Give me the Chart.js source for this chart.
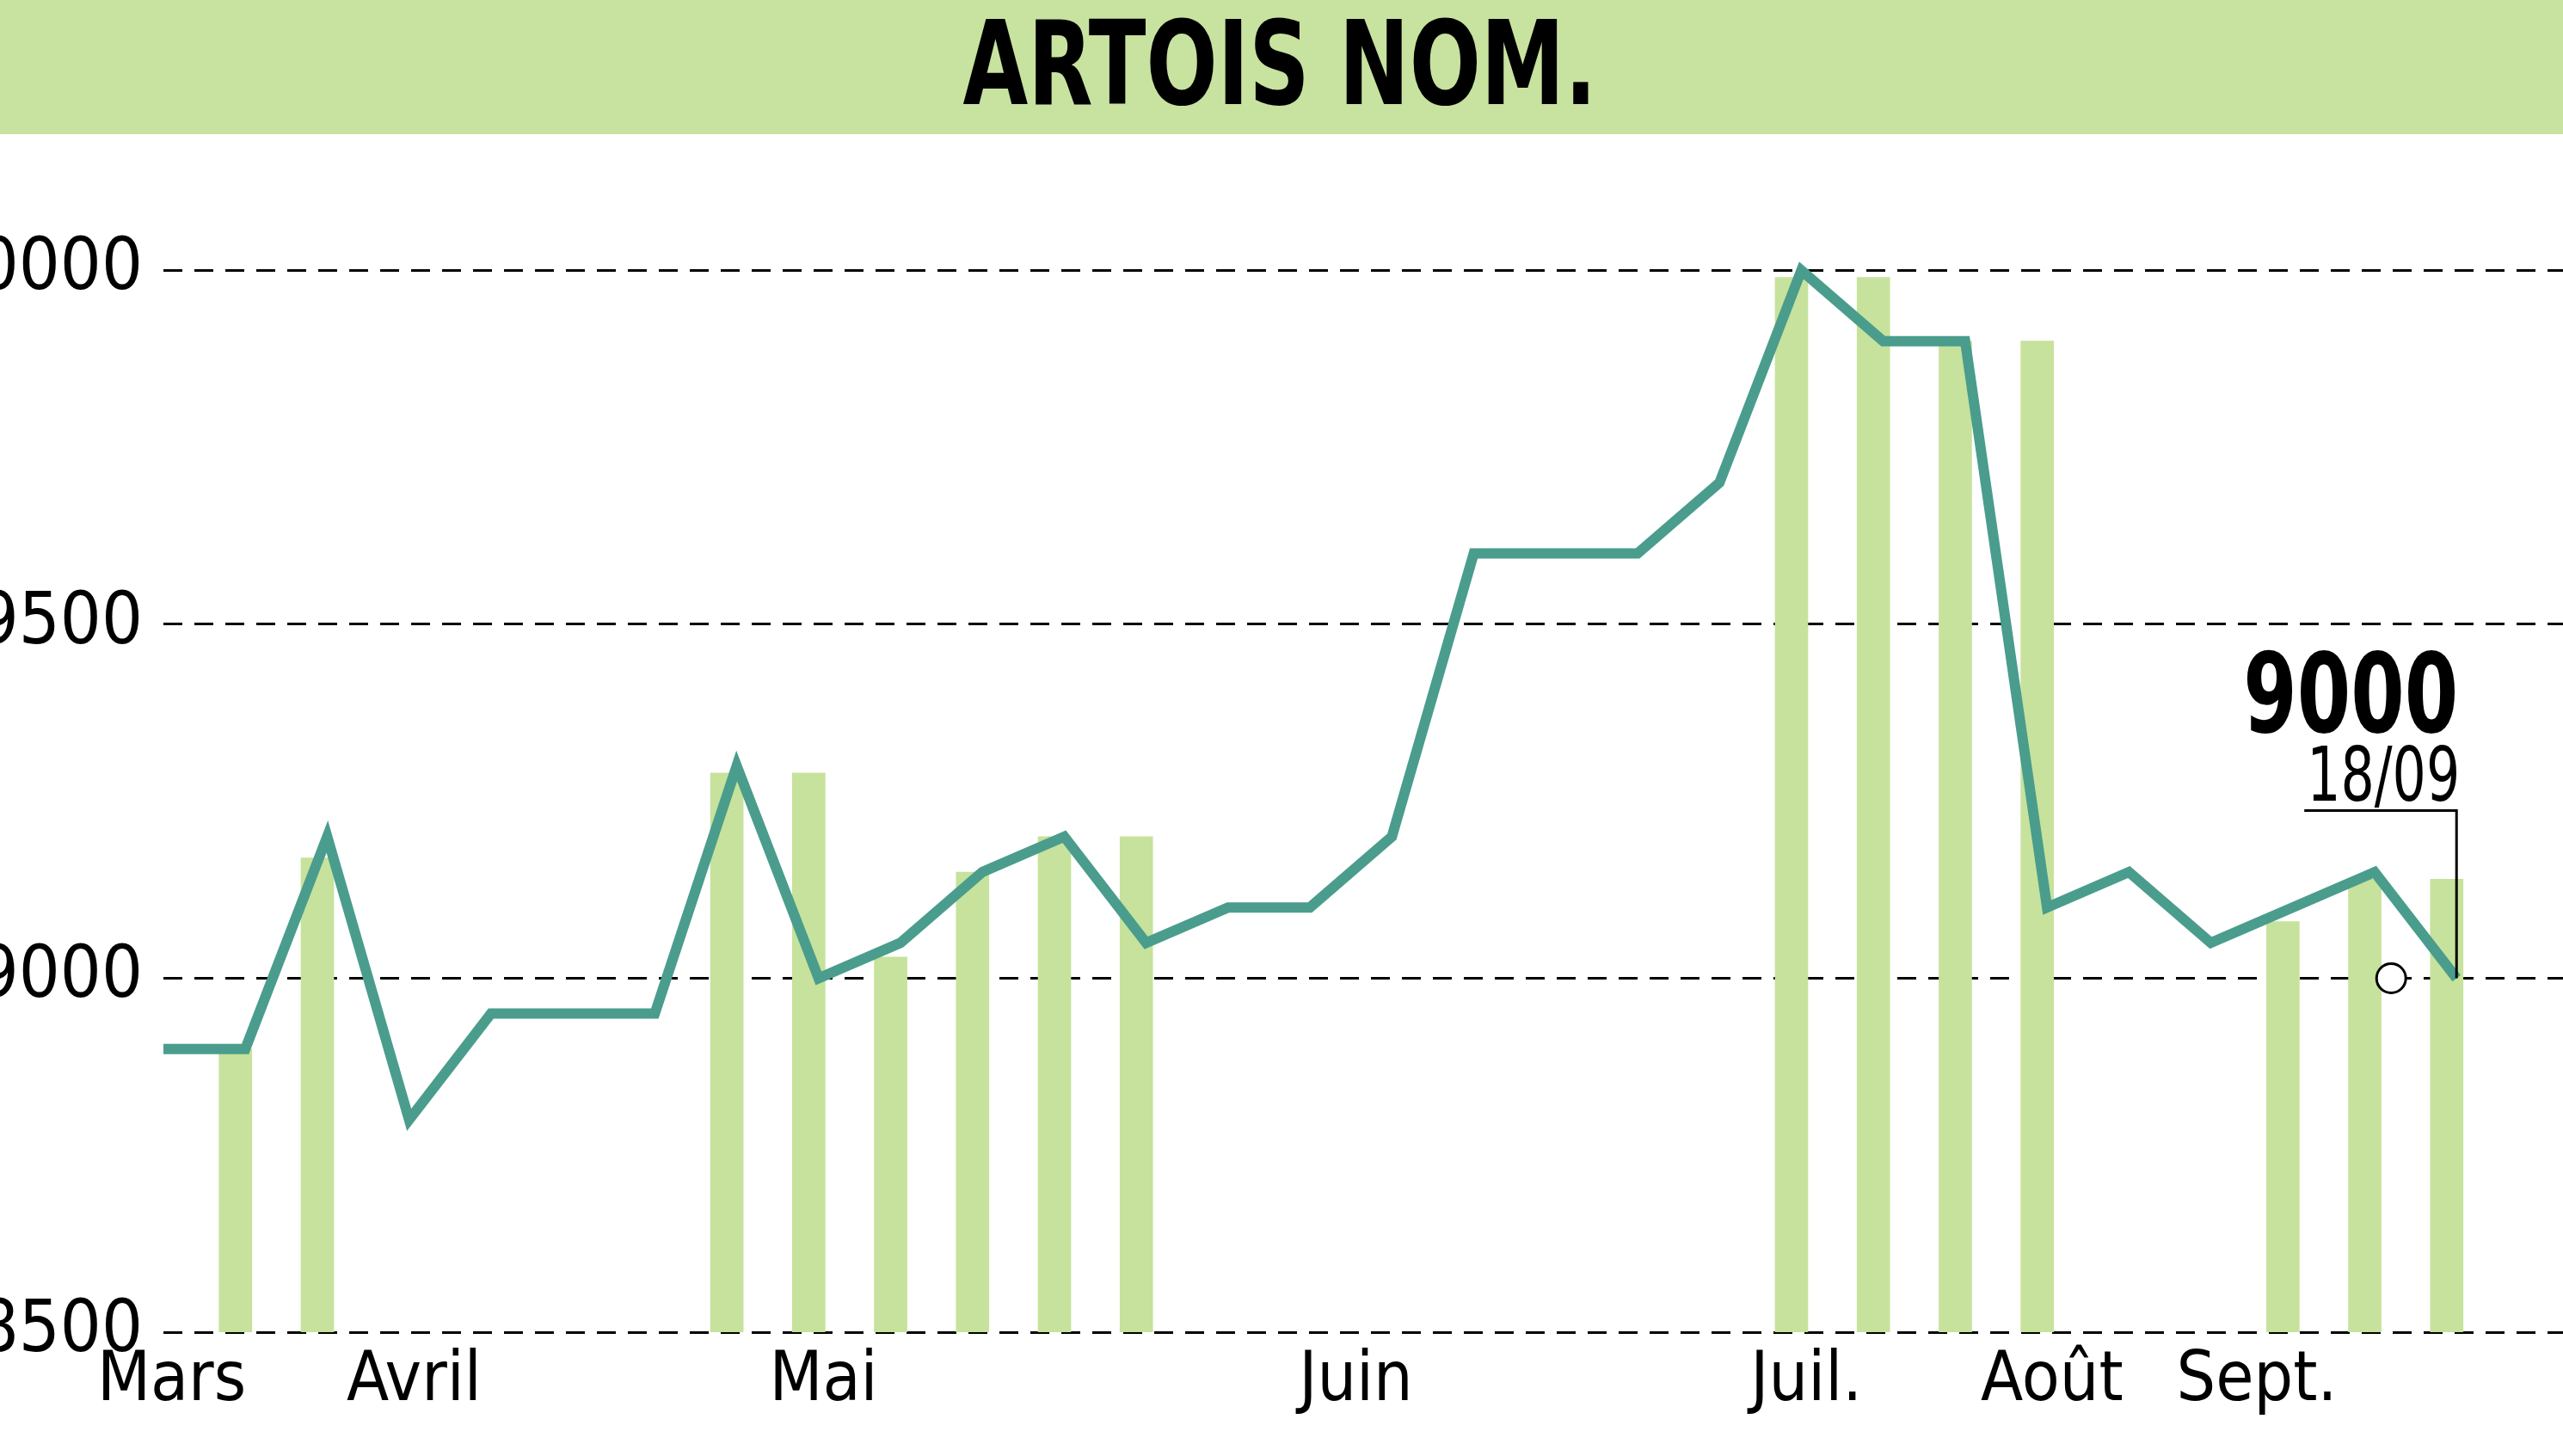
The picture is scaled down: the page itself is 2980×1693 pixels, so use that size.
<!DOCTYPE html>
<html><head><meta charset="utf-8">
<script src="https://cdn.jsdelivr.net/npm/chart.js@4/dist/chart.umd.min.js"></script>
<style>html,body{margin:0;padding:0;background:#fff}#c{display:block}</style>
</head><body>
<canvas id="c" width="2980" height="1693"></canvas>
<script>
const title = "ARTOIS NOM.";
const priceX = [0,1,2,3,4,6,7,8,9,10,11,12,13,14,15,16,18,19,20,21,22,23,24,25,27,28];
const priceY = [8900,8900,9200,8800,8950,8950,9300,9000,9050,9150,9200,9050,9100,9100,9200,9600,9600,9700,10000,9900,9900,9100,9150,9050,9150,9000];
const barX = [1,2,7,8,9,10,11,12,20,21,22,23,26,27,28];
const barY = [8900,9170,9290,9290,9030,9150,9200,9200,9990,9990,9900,9900,9080,9140,9140];
const yTicks = [8500,9000,9500,10000];
const monthPos = [0.1,3.06,8.06,14.56,20.06,23.06,25.56];
const monthLabels = ["Mars","Avril","Mai","Juin","Juil.","Août","Sept."];
const lastValue = "9000", lastDate = "18/09";
const FONT = "'Liberation Sans Narrow','DejaVu Sans Condensed',sans-serif";

function condText(c,t,x,y,sx){c.save();c.translate(x,y);c.scale(sx,1);c.fillText(t,0,0);c.restore();}

const deco = {
  id:'deco',
  beforeDraw(ch){
    const c=ch.ctx; c.save();
    c.fillStyle='#fff'; c.fillRect(0,0,ch.width,ch.height);
    c.fillStyle='#c8e2a0'; c.fillRect(0,0,ch.width,156);
    c.fillStyle='#000'; c.font="bold 136px "+FONT; c.textAlign='center'; c.textBaseline='middle';
    condText(c,title,1488,86,0.8);
    c.restore();
  },
  afterDraw(ch){
    const c=ch.ctx, xs=ch.scales.x, ys=ch.scales.y; c.save();
    const px=xs.getPixelForValue(priceX[priceX.length-1]), py=ys.getPixelForValue(priceY[priceY.length-1]);
    c.fillStyle='#000'; c.textAlign='center'; c.textBaseline='alphabetic';
    c.font="bold 128px "+FONT; condText(c,lastValue,px-123,py-286,0.78);
    c.font="88px "+FONT; condText(c,lastDate,px-85,py-206,0.78);
    c.strokeStyle='#000'; c.lineWidth=3;
    c.beginPath(); c.moveTo(px-177,py-195); c.lineTo(px,py-195); c.lineTo(px,py); c.stroke();
    c.beginPath(); c.arc(px-76,py,17,0,Math.PI*2); c.fillStyle='#fff'; c.fill(); c.lineWidth=3; c.stroke();
    c.restore();
  }
};

new Chart(document.getElementById('c'),{
  data:{datasets:[
    {type:'line',data:priceX.map((x,i)=>({x,y:priceY[i]})),borderColor:'#4a9d8c',borderWidth:12,pointRadius:0,tension:0,order:1},
    {type:'bar',data:barX.map((x,i)=>({x:x-0.12,y:[8500,barY[i]]})),backgroundColor:'#c6e29c',barThickness:38,order:2}
  ]},
  options:{responsive:false,animation:false,
    layout:{padding:{top:158,right:0,bottom:36,left:0}},
    plugins:{legend:{display:false},tooltip:{enabled:false}},
    scales:{
      x:{type:'linear',min:0,max:29.3,offset:false,
        afterBuildTicks(a){a.ticks=monthPos.map(v=>({value:v}));},
        ticks:{autoSkip:false,maxRotation:0,padding:2,color:'#000',font:{family:FONT,size:80},
          callback:(v,i)=>monthLabels[i]},
        grid:{display:false},border:{display:false}},
      y:{min:8500,max:10190,
        afterBuildTicks(a){a.ticks=yTicks.map(v=>({value:v}));},
        afterFit(a){a.width=190;},
        ticks:{padding:24,color:'#000',font:{family:FONT,size:84},callback:v=>String(v)},
        grid:{color:'#000',lineWidth:3,drawTicks:false},
        border:{display:false,dash:[22,14]}}
    }},
  plugins:[deco]
});
</script>
</body></html>
